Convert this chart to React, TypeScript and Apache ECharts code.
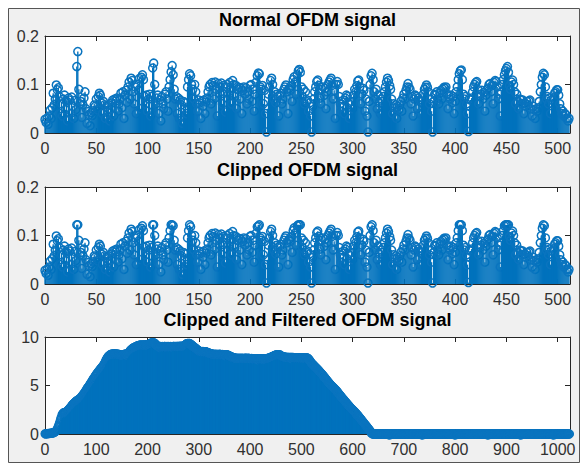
import React, { useEffect, useRef } from 'react';
import * as echarts from 'echarts';

// ---- data ----
const normalSignal = [
  .028,.022,.030,.018,.035,.047,.030,.052,.082,.058,.070,.099,.089,.093,.075,.040,
  .062,.035,.070,.078,.048,.066,.025,.072,.068,.040,.074,.055,.030,.067,.048,.137,
  .168,.090,.060,.065,.032,.058,.072,.085,.050,.020,.044,.038,.015,.042,.036,.046,
  .060,.055,.070,.048,.075,.082,.078,.062,.040,.065,.058,.030,.055,.047,.058,.025,
  .050,.062,.068,.035,.070,.066,.072,.045,.060,.070,.082,.052,.085,.030,.078,.088,
  .065,.095,.105,.070,.113,.108,.085,.060,.095,.040,.100,.088,.112,.050,.115,.120,
  .110,.075,.060,.078,.045,.070,.080,.035,.075,.134,.144,.100,.060,.072,.078,.040,
  .070,.025,.075,.060,.050,.080,.085,.070,.045,.095,.110,.126,.139,.120,.090,.070,
  .075,.040,.072,.030,.068,.058,.020,.065,.050,.062,.040,.095,.110,.122,.118,.100,
  .092,.070,.100,.085,.060,.045,.068,.062,.030,.066,.055,.068,.040,.064,.072,.085,
  .095,.100,.060,.104,.098,.070,.105,.090,.035,.102,.095,.080,.103,.060,.098,.085,
  .045,.095,.100,.080,.104,.092,.060,.108,.100,.075,.098,.050,.090,.094,.070,.092,
  .040,.088,.095,.080,.093,.060,.085,.070,.098,.100,.065,.090,.045,.080,.105,.118,
  .126,.122,.095,.090,.098,.060,.088,.040,.002,.050,.080,.095,.108,.113,.100,.070,
  .085,.062,.080,.075,.035,.078,.082,.060,.070,.090,.095,.099,.085,.040,.092,.088,
  .100,.065,.110,.116,.105,.080,.120,.128,.131,.125,.095,.075,.090,.060,.085,.065,
  .068,.045,.062,.035,.002,.055,.070,.085,.095,.106,.109,.098,.072,.060,.090,.095,
  .080,.092,.050,.085,.100,.105,.109,.113,.098,.070,.088,.030,.100,.106,.100,.075,
  .060,.045,.055,.068,.040,.072,.078,.075,.062,.030,.058,.065,.050,.078,.090,.085,
  .100,.107,.109,.095,.060,.080,.092,.088,.045,.070,.035,.002,.065,.100,.118,.123,
  .110,.085,.070,.090,.050,.078,.062,.040,.070,.065,.075,.085,.095,.105,.113,.108,
  .100,.090,.070,.040,.060,.052,.058,.030,.055,.048,.058,.065,.045,.072,.080,.070,
  .088,.095,.102,.094,.090,.060,.075,.035,.070,.078,.075,.050,.072,.068,.040,.065,
  .075,.080,.090,.094,.099,.094,.085,.060,.070,.045,.002,.065,.080,.078,.085,.070,
  .060,.082,.088,.070,.090,.094,.092,.095,.080,.050,.075,.070,.078,.062,.075,.040,
  .068,.085,.095,.110,.122,.128,.130,.110,.080,.070,.075,.060,.040,.003,.055,.068,
  .072,.085,.095,.100,.104,.106,.090,.060,.075,.080,.088,.070,.084,.045,.078,.090,
  .095,.100,.102,.085,.098,.060,.104,.108,.106,.095,.070,.080,.035,.085,.100,.110,
  .120,.128,.133,.137,.125,.098,.090,.105,.109,.100,.085,.060,.080,.065,.050,.070,
  .071,.060,.068,.040,.062,.055,.065,.058,.066,.068,.050,.035,.055,.048,.030,.050,
  .045,.052,.065,.085,.100,.115,.123,.120,.095,.070,.075,.060,.072,.040,.068,.060,
  .075,.082,.085,.089,.089,.078,.060,.050,.040,.045,.035,.040,.038,.030,.025,.030,
];

const clippedSignal = [
  .028,.022,.030,.018,.035,.047,.030,.052,.082,.058,.070,.099,.089,.093,.075,.040,
  .062,.035,.070,.078,.048,.066,.025,.072,.068,.040,.074,.055,.030,.067,.048,.122,
  .122,.090,.060,.065,.032,.058,.072,.085,.050,.020,.044,.038,.015,.042,.036,.046,
  .060,.055,.070,.048,.075,.082,.078,.062,.040,.065,.058,.030,.055,.047,.058,.025,
  .050,.062,.068,.035,.070,.066,.072,.045,.060,.070,.082,.052,.085,.030,.078,.088,
  .065,.095,.105,.070,.113,.108,.085,.060,.095,.040,.100,.088,.112,.050,.115,.120,
  .110,.075,.060,.078,.045,.070,.080,.035,.075,.122,.122,.100,.060,.072,.078,.040,
  .070,.025,.075,.060,.050,.080,.085,.070,.045,.095,.110,.122,.122,.120,.090,.070,
  .075,.040,.072,.030,.068,.058,.020,.065,.050,.062,.040,.095,.110,.122,.118,.100,
  .092,.070,.100,.085,.060,.045,.068,.062,.030,.066,.055,.068,.040,.064,.072,.085,
  .095,.100,.060,.104,.098,.070,.105,.090,.035,.102,.095,.080,.103,.060,.098,.085,
  .045,.095,.100,.080,.104,.092,.060,.108,.100,.075,.098,.050,.090,.094,.070,.092,
  .040,.088,.095,.080,.093,.060,.085,.070,.098,.100,.065,.090,.045,.080,.105,.118,
  .122,.122,.095,.090,.098,.060,.088,.040,.002,.050,.080,.095,.108,.113,.100,.070,
  .085,.062,.080,.075,.035,.078,.082,.060,.070,.090,.095,.099,.085,.040,.092,.088,
  .100,.065,.110,.116,.105,.080,.120,.122,.122,.122,.095,.075,.090,.060,.085,.065,
  .068,.045,.062,.035,.002,.055,.070,.085,.095,.106,.109,.098,.072,.060,.090,.095,
  .080,.092,.050,.085,.100,.105,.109,.113,.098,.070,.088,.030,.100,.106,.100,.075,
  .060,.045,.055,.068,.040,.072,.078,.075,.062,.030,.058,.065,.050,.078,.090,.085,
  .100,.107,.109,.095,.060,.080,.092,.088,.045,.070,.035,.002,.065,.100,.118,.122,
  .110,.085,.070,.090,.050,.078,.062,.040,.070,.065,.075,.085,.095,.105,.113,.108,
  .100,.090,.070,.040,.060,.052,.058,.030,.055,.048,.058,.065,.045,.072,.080,.070,
  .088,.095,.102,.094,.090,.060,.075,.035,.070,.078,.075,.050,.072,.068,.040,.065,
  .075,.080,.090,.094,.099,.094,.085,.060,.070,.045,.002,.065,.080,.078,.085,.070,
  .060,.082,.088,.070,.090,.094,.092,.095,.080,.050,.075,.070,.078,.062,.075,.040,
  .068,.085,.095,.110,.122,.122,.122,.110,.080,.070,.075,.060,.040,.003,.055,.068,
  .072,.085,.095,.100,.104,.106,.090,.060,.075,.080,.088,.070,.084,.045,.078,.090,
  .095,.100,.102,.085,.098,.060,.104,.108,.106,.095,.070,.080,.035,.085,.100,.110,
  .120,.122,.122,.122,.122,.098,.090,.105,.109,.100,.085,.060,.080,.065,.050,.070,
  .071,.060,.068,.040,.062,.055,.065,.058,.066,.068,.050,.035,.055,.048,.030,.050,
  .045,.052,.065,.085,.100,.115,.122,.120,.095,.070,.075,.060,.072,.040,.068,.060,
  .075,.082,.085,.089,.089,.078,.060,.050,.040,.045,.035,.040,.038,.030,.025,.030,
];

const filteredSignal = [
  0.02,0.01,0.03,0.02,0.04,0.03,0.05,0.04,0.06,0.05,0.07,0.08,0.07,0.09,0.1,0.11,0.12,0.14,0.17,0.2,0.24,0.28,0.33,0.42,0.52,0.65,0.78,0.92,1.08,1.25,1.45,1.65,
  1.8,1.95,2.05,2.12,2.18,2.2,2.22,2.18,2.25,2.23,2.28,2.35,2.4,2.45,2.52,2.58,2.62,2.7,2.76,2.82,2.9,2.98,3.04,3.1,3.14,3.2,3.26,3.3,3.35,3.4,3.42,3.45,
  3.5,3.54,3.58,3.62,3.65,3.7,3.76,3.82,3.9,3.96,4.02,4.1,4.18,4.26,4.32,4.4,4.48,4.58,4.68,4.76,4.82,4.9,4.98,5.06,5.15,5.24,5.32,5.4,5.5,5.58,5.66,5.74,
  5.82,5.9,5.98,6.06,6.14,6.22,6.28,6.35,6.42,6.5,6.56,6.62,6.7,6.76,6.82,6.88,6.96,7.02,7.1,7.18,7.28,7.38,7.5,7.62,7.7,7.8,7.9,7.98,8.02,8.07,8.12,8.16,
  8.2,8.22,8.2,8.24,8.26,8.25,8.22,8.26,8.28,8.25,8.22,8.24,8.26,8.23,8.2,8.22,8.18,8.2,8.16,8.15,8.12,8.14,8.1,8.12,8.15,8.18,8.2,8.22,8.2,8.23,8.25,8.22,
  8.2,8.24,8.28,8.35,8.42,8.5,8.58,8.65,8.7,8.75,8.8,8.85,8.88,8.9,8.92,8.95,8.98,9.0,9.02,9.05,9.08,9.1,9.12,9.14,9.15,9.16,9.15,9.17,9.18,9.16,9.15,9.17,
  9.18,9.16,9.15,9.17,9.2,9.18,9.16,9.15,9.18,9.2,9.22,9.25,9.28,9.32,9.35,9.38,9.4,9.42,9.4,9.42,9.4,9.38,9.35,9.3,9.22,9.15,9.1,9.06,9.04,9.05,9.03,9.02,
  9.0,9.02,9.0,8.98,9.0,9.02,9.0,8.98,9.0,9.02,9.03,9.0,8.98,9.0,9.02,9.0,9.01,9.03,9.0,8.98,9.0,9.02,9.01,9.0,8.98,9.0,9.02,9.04,9.02,9.0,9.01,9.03,
  9.02,9.0,9.02,9.04,9.02,9.0,9.02,9.05,9.03,9.02,9.04,9.06,9.05,9.03,9.05,9.07,9.1,9.15,9.2,9.25,9.3,9.32,9.35,9.34,9.32,9.35,9.33,9.3,9.25,9.2,9.18,9.15,
  9.1,9.05,9.0,8.95,8.92,8.88,8.85,8.8,8.75,8.7,8.65,8.6,8.58,8.55,8.52,8.5,8.52,8.5,8.48,8.5,8.52,8.5,8.48,8.46,8.48,8.5,8.48,8.45,8.42,8.4,8.38,8.36,
  8.35,8.32,8.3,8.28,8.26,8.25,8.24,8.22,8.2,8.22,8.2,8.18,8.2,8.22,8.2,8.18,8.2,8.21,8.2,8.18,8.2,8.22,8.2,8.18,8.16,8.18,8.2,8.18,8.15,8.16,8.18,8.16,
  8.15,8.16,8.18,8.16,8.15,8.13,8.1,8.08,8.05,8.02,8.0,7.98,7.95,7.92,7.9,7.88,7.86,7.85,7.84,7.82,7.8,7.82,7.8,7.79,7.8,7.82,7.8,7.78,7.8,7.81,7.8,7.78,
  7.8,7.82,7.8,7.78,7.8,7.79,7.8,7.82,7.81,7.8,7.78,7.8,7.82,7.8,7.79,7.8,7.78,7.76,7.78,7.8,7.78,7.76,7.75,7.76,7.78,7.76,7.75,7.74,7.76,7.78,7.76,7.75,
  7.74,7.76,7.75,7.74,7.76,7.78,7.76,7.75,7.74,7.72,7.74,7.75,7.74,7.72,7.74,7.76,7.78,7.8,7.78,7.8,7.82,7.84,7.85,7.88,7.9,7.92,7.95,7.98,8.0,8.02,8.05,8.08,
  8.1,8.12,8.14,8.15,8.16,8.18,8.16,8.15,8.16,8.18,8.16,8.12,8.08,8.05,8.02,8.0,7.98,7.96,7.95,7.93,7.92,7.9,7.9,7.92,7.9,7.88,7.9,7.91,7.9,7.88,7.9,7.89,
  7.88,7.9,7.89,7.88,7.9,7.88,7.86,7.88,7.87,7.86,7.88,7.86,7.85,7.87,7.86,7.85,7.86,7.84,7.85,7.86,7.85,7.84,7.85,7.86,7.84,7.83,7.84,7.85,7.84,7.85,7.86,7.85,
  7.82,7.8,7.74,7.67,7.6,7.52,7.44,7.37,7.3,7.24,7.18,7.13,7.08,7.03,6.97,6.92,6.87,6.82,6.76,6.7,6.65,6.6,6.54,6.48,6.42,6.36,6.3,6.25,6.2,6.14,6.07,6.0,
  5.94,5.87,5.8,5.73,5.66,5.6,5.53,5.46,5.4,5.33,5.26,5.2,5.14,5.09,5.03,4.98,4.92,4.87,4.82,4.76,4.71,4.66,4.6,4.55,4.5,4.43,4.36,4.3,4.23,4.16,4.1,4.03,
  3.97,3.9,3.84,3.77,3.7,3.64,3.58,3.52,3.45,3.39,3.33,3.27,3.2,3.14,3.08,3.02,2.96,2.89,2.83,2.77,2.72,2.66,2.61,2.56,2.5,2.45,2.4,2.34,2.29,2.23,2.18,2.12,
  2.07,2.0,1.94,1.87,1.8,1.74,1.67,1.6,1.54,1.47,1.4,1.34,1.27,1.21,1.14,1.07,1.01,0.94,0.87,0.8,0.74,0.67,0.6,0.54,0.47,0.4,0.34,0.25,0.16,0.08,0.03,0,
  0,0,0,0,0,0,0,0, 0,0,0,0,0,0,0,0, 0,0,0,0,0,0,0,0, 0,0,0,0,0,0,0,0,
  0,0,0,0,0,0,0,0, 0,0,0,0,0,0,0,0, 0,0,0,0,0,0,0,0, 0,0,0,0,0,0,0,0,
  0,0,0,0,0,0,0,0, 0,0,0,0,0,0,0,0, 0,0,0,0,0,0,0,0, 0,0,0,0,0,0,0,0,
  0,0,0,0,0,0,0,0, 0,0,0,0,0,0,0,0, 0,0,0,0,0,0,0,0, 0,0,0,0,0,0,0,0,
  0,0,0,0,0,0,0,0, 0,0,0,0,0,0,0,0, 0,0,0,0,0,0,0,0, 0,0,0,0,0,0,0,0,
  0,0,0,0,0,0,0,0, 0,0,0,0,0,0,0,0, 0,0,0,0,0,0,0,0, 0,0,0,0,0,0,0,0,
  0,0,0,0,0,0,0,0, 0,0,0,0,0,0,0,0, 0,0,0,0,0,0,0,0, 0,0,0,0,0,0,0,0,
  0,0,0,0,0,0,0,0, 0,0,0,0,0,0,0,0, 0,0,0,0,0,0,0,0, 0,0,0,0,0,0,0,0,
  0,0,0,0,0,0,0,0, 0,0,0,0,0,0,0,0, 0,0,0,0,0,0,0,0, 0,0,0,0,0,0,0,0,
  0,0,0,0,0,0,0,0, 0,0,0,0,0,0,0,0, 0,0,0,0,0,0,0,0, 0,0,0,0,0,0,0,0,
  0,0,0,0,0,0,0,0, 0,0,0,0,0,0,0,0, 0,0,0,0,0,0,0,0, 0,0,0,0,0,0,0,0,
  0,0,0,0,0,0,0,0, 0,0,0,0,0,0,0,0, 0,0,0,0,0,0,0,0, 0,0,0,0,0,0,0,0,
];

const titles = ['Normal OFDM signal', 'Clipped OFDM signal', 'Clipped and Filtered OFDM signal'];
const xTicksShort = [0, 50, 100, 150, 200, 250, 300, 350, 400, 450, 500];
const xTicksLong = [0, 100, 200, 300, 400, 500, 600, 700, 800, 900, 1000];
const yTicksSmall = [0, 0.1, 0.2];
const yTicksLarge = [0, 5, 10];
const xMaxShort = 512;
const xMaxLong = 1024;

// ---- styling ----
const BLUE = '#0072BD';
const MARK = '#0a74bf';
const AXIS = '#262626';
const LABEL = '#303030';
const FONT = '"Liberation Sans", Arial, Helvetica, sans-serif';
const GRID_LEFT = 45;
const GRID_WIDTH = 525;
const GRID_HEIGHT = 97;
const GRID_TOPS = [36, 187, 337];
const TITLE_Y = [19.5, 170, 320];
const STEM_WIDTHS = [1.35, 1.35, 1.4];
const MARK_WIDTHS = [1.5, 1.5, 1.2];

const fmt = (list: number[]) => (v: number) =>
  list.some((t) => Math.abs(t - v) < 1e-9) ? String(v) : '';

const makeStemRender = (stemWidth: number, markWidth: number) => (params: any, api: any) => {
  const x = api.value(0);
  const y = api.value(1);
  const top = api.coord([x, y]);
  const base = api.coord([x, 0]);
  return {
    type: 'group',
    children: [
      {
        type: 'line',
        shape: { x1: base[0], y1: base[1], x2: top[0], y2: top[1] },
        style: { stroke: BLUE, lineWidth: stemWidth },
      },
      {
        type: 'circle',
        shape: { cx: top[0], cy: top[1], r: 4 },
        style: { fill: 'none', stroke: MARK, lineWidth: markWidth },
      },
    ],
  };
};

export default function App() {
  const ref = useRef<HTMLDivElement>(null);

  useEffect(() => {
    if (!ref.current) return;
    const chart = echarts.init(ref.current, undefined, { renderer: 'svg' });

    const panels = [
      { values: normalSignal, xMax: xMaxShort, xTicks: xTicksShort, yTicks: yTicksSmall },
      { values: clippedSignal, xMax: xMaxShort, xTicks: xTicksShort, yTicks: yTicksSmall },
      { values: filteredSignal, xMax: xMaxLong, xTicks: xTicksLong, yTicks: yTicksLarge },
    ];

    const grids: any[] = [];
    const xAxes: any[] = [];
    const yAxes: any[] = [];
    const series: any[] = [];
    const graphics: any[] = [
      {
        type: 'rect',
        z: -100,
        shape: { x: 8.5, y: 8.5, width: 571, height: 454 },
        style: { fill: '#f0f0f0', stroke: '#555', lineWidth: 1 },
      },
    ];

    const axisLine = { show: true, onZero: false, lineStyle: { color: AXIS, width: 1 } };
    const axisTick = { show: true, inside: true, length: 5, lineStyle: { color: AXIS, width: 1 } };

    panels.forEach((p, g) => {
      grids.push({
        left: GRID_LEFT,
        top: GRID_TOPS[g],
        width: GRID_WIDTH,
        height: GRID_HEIGHT,
        show: true,
        backgroundColor: '#ffffff',
        borderWidth: 0,
      });
      const xInterval = p.xTicks[1] - p.xTicks[0];
      const yInterval = p.yTicks[1] - p.yTicks[0];
      const yMax = p.yTicks[p.yTicks.length - 1];
      xAxes.push({
        type: 'value', gridIndex: g, position: 'bottom', min: 0, max: p.xMax, interval: xInterval,
        axisLine, axisTick,
        axisLabel: { margin: 7, fontSize: 16, fontFamily: FONT, color: LABEL, formatter: fmt(p.xTicks) },
        splitLine: { show: false },
      });
      xAxes.push({
        type: 'value', gridIndex: g, position: 'top', min: 0, max: p.xMax, interval: xInterval,
        axisLine, axisTick, axisLabel: { show: false }, splitLine: { show: false },
      });
      yAxes.push({
        type: 'value', gridIndex: g, position: 'left', min: 0, max: yMax, interval: yInterval,
        axisLine, axisTick,
        axisLabel: { margin: 6, fontSize: 16, fontFamily: FONT, color: LABEL, formatter: fmt(p.yTicks) },
        splitLine: { show: false },
      });
      yAxes.push({
        type: 'value', gridIndex: g, position: 'right', min: 0, max: yMax, interval: yInterval,
        axisLine, axisTick, axisLabel: { show: false }, splitLine: { show: false },
      });
      series.push({
        type: 'custom',
        xAxisIndex: g * 2,
        yAxisIndex: g * 2,
        silent: true,
        clip: false,
        renderItem: makeStemRender(STEM_WIDTHS[g], MARK_WIDTHS[g]),
        encode: { x: 0, y: 1 },
        data: p.values.map((v, i) => [i, v]),
      });
      graphics.push({
        type: 'text',
        x: GRID_LEFT + GRID_WIDTH / 2,
        y: TITLE_Y[g],
        style: {
          text: titles[g],
          font: `bold 18px ${FONT}`,
          fill: '#000',
          textAlign: 'center',
          textVerticalAlign: 'middle',
        },
      });
    });

    chart.setOption({
      animation: false,
      backgroundColor: '#ffffff',
      grid: grids,
      xAxis: xAxes,
      yAxis: yAxes,
      series,
      graphic: graphics,
    });

    return () => chart.dispose();
  }, []);

  return (
    <div
      ref={ref}
      style={{ position: 'fixed', left: 0, top: 0, width: 581, height: 466 }}
    />
  );
}
